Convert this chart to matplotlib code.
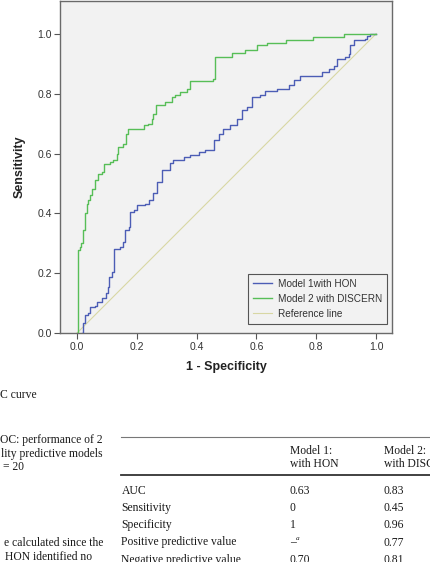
import matplotlib
matplotlib.use('Agg')
import matplotlib.pyplot as plt
from matplotlib.lines import Line2D

# ROC curve corners (1 - specificity, sensitivity)
fpr_discern = [0.000, 0.003, 0.005, 0.011, 0.014, 0.020, 0.028, 0.034, 0.039, 0.045,
               0.050, 0.061, 0.072, 0.083, 0.091, 0.110, 0.122, 0.133, 0.139, 0.156,
               0.165, 0.171, 0.223, 0.239, 0.250, 0.256, 0.265, 0.296, 0.318, 0.329,
               0.346, 0.368, 0.377, 0.456, 0.462, 0.518, 0.563, 0.602, 0.635, 0.700,
               0.790, 0.892, 1.000]
tpr_discern = [0.000, 0.044, 0.278, 0.288, 0.300, 0.344, 0.400, 0.433, 0.444, 0.461,
               0.483, 0.511, 0.533, 0.539, 0.564, 0.572, 0.580, 0.600, 0.622, 0.631,
               0.667, 0.683, 0.694, 0.700, 0.717, 0.733, 0.761, 0.772, 0.789, 0.797,
               0.806, 0.817, 0.841, 0.850, 0.922, 0.937, 0.947, 0.961, 0.970, 0.980,
               0.989, 1.000, 1.000]

fpr_hon = [0.017, 0.020, 0.028, 0.039, 0.045, 0.061, 0.067, 0.084, 0.098, 0.103,
           0.109, 0.117, 0.126, 0.143, 0.156, 0.162, 0.173, 0.179, 0.190, 0.201,
           0.229, 0.240, 0.256, 0.268, 0.284, 0.312, 0.323, 0.357, 0.379, 0.407,
           0.429, 0.460, 0.474, 0.490, 0.513, 0.535, 0.552, 0.569, 0.585, 0.613,
           0.630, 0.669, 0.708, 0.725, 0.747, 0.820, 0.842, 0.858, 0.870, 0.897,
           0.909, 0.914, 0.925, 0.964, 0.970, 0.980, 1.000]
tpr_hon = [0.000, 0.033, 0.061, 0.067, 0.089, 0.091, 0.106, 0.117, 0.133, 0.156,
           0.189, 0.206, 0.283, 0.289, 0.306, 0.344, 0.356, 0.406, 0.411, 0.428,
           0.433, 0.444, 0.467, 0.506, 0.544, 0.567, 0.578, 0.589, 0.594, 0.606,
           0.613, 0.644, 0.667, 0.683, 0.694, 0.717, 0.744, 0.756, 0.789, 0.794,
           0.809, 0.817, 0.828, 0.844, 0.858, 0.872, 0.883, 0.894, 0.917, 0.922,
           0.933, 0.961, 0.980, 0.983, 0.992, 1.000, 1.000]

ticks = [0.0, 0.2, 0.4, 0.6, 0.8, 1.0]
tick_labels = ['0.0', '0.2', '0.4', '0.6', '0.8', '1.0']

# table beside the caption
row_labels = ['AUC', 'Sensitivity', 'Specificity', 'Positive predictive value',
              'Negative predictive value']
model1_vals = ['0.63', '0', '1', '\u2013', '0.70']
model2_vals = ['0.83', '0.45', '0.96', '0.77', '0.81']

W, H = 431, 562
fig = plt.figure(figsize=(W / 100, H / 100), dpi=100)
fig.patch.set_facecolor('white')

def fx(px):
    return px / W

def fy(py):
    return 1 - py / H

ax = fig.add_axes([fx(60), fy(333.3), (392 - 60) / W, (333.3 - 0.5) / H])
ax.set_facecolor('#f2f2f2')
ax.set_xlim(-0.056, 1.053)
ax.set_ylim(0, 1.111)

ax.plot([0, 1], [0, 1], color='#d8d7a4', lw=0.8, label='Reference line', zorder=2)
ax.plot(fpr_hon, tpr_hon, drawstyle='steps-post', color='#4c5db5', lw=1.0,
        label='Model 1with HON', zorder=3)
ax.plot(fpr_discern, tpr_discern, drawstyle='steps-post', color='#57be57', lw=1.0,
        label='Model 2 with DISCERN', zorder=4)

for s in ax.spines.values():
    s.set_color('#6a6a6a')
    s.set_linewidth(1.0)

sans = ['Liberation Sans', 'DejaVu Sans']
ax.set_xticks(ticks)
ax.set_xticklabels(tick_labels, fontsize=7.5, family=sans, color='#333333')
ax.set_yticks(ticks)
ax.set_yticklabels(tick_labels, fontsize=7.5, family=sans, color='#333333')
ax.tick_params(direction='out', length=4, width=0.8, color='#555555', pad=2)
ax.set_xlabel('1 - Specificity', fontsize=9, fontweight='bold', family=sans,
              color='#222222', labelpad=7)
ax.set_ylabel('Sensitivity', fontsize=9, fontweight='bold', family=sans,
              color='#222222', labelpad=8)

h, l = ax.get_legend_handles_labels()
order = [1, 2, 0]
leg = ax.legend([h[i] for i in order], [l[i] for i in order], loc='lower right',
                bbox_to_anchor=(0.985, 0.028), borderaxespad=0, fancybox=False,
                prop={'family': sans, 'size': 7.2}, handlelength=1.9,
                handletextpad=0.6, labelspacing=0.5, borderpad=0.5)
leg.get_frame().set_facecolor('#f2f2f2')
leg.get_frame().set_edgecolor('#555555')
leg.get_frame().set_linewidth(0.8)
leg.get_frame().set_alpha(1)
for t in leg.get_texts():
    t.set_color('#333333')

# caption and table text below the chart
serif = ['Liberation Serif', 'DejaVu Serif']
tkw = dict(family=serif, fontsize=8.4, color='#1a1a1a', va='center')
fig.text(fx(0), fy(395), 'C curve', ha='left', **tkw)
fig.text(fx(103), fy(440), 'OC: performance of 2', ha='right', **tkw)
fig.text(fx(103), fy(454), 'lity predictive models', ha='right', **tkw)
fig.text(fx(3), fy(467), '= 20', ha='left', **tkw)
fig.text(fx(103), fy(543), 'e calculated since the', ha='right', **tkw)
fig.text(fx(5), fy(557), 'HON identified no', ha='left', **tkw)

fig.add_artist(Line2D([fx(121), 1], [fy(436.5), fy(436.5)], color='#777777', lw=0.8))
fig.add_artist(Line2D([fx(121), 1], [fy(474.5), fy(474.5)], color='#333333', lw=1.3))

fig.text(fx(290), fy(451), 'Model 1:', ha='left', **tkw)
fig.text(fx(290), fy(464), 'with HON', ha='left', **tkw)
fig.text(fx(384), fy(451), 'Model 2:', ha='left', **tkw)
fig.text(fx(384), fy(464), 'with DISCERN', ha='left', **tkw)

row_y = [490.5, 508, 525, 542.5, 560]
for lab, v1, v2, yy in zip(row_labels, model1_vals, model2_vals, row_y):
    fig.text(fx(121.5), fy(yy), lab, ha='left', **tkw)
    fig.text(fx(290), fy(yy), v1, ha='left', **tkw)
    fig.text(fx(384), fy(yy), v2, ha='left', **tkw)
fig.text(fx(296), fy(539), 'a', ha='left', family=serif, fontsize=5.2,
         style='italic', color='#1a1a1a', va='center')

fig.savefig('out.png', dpi=100)
